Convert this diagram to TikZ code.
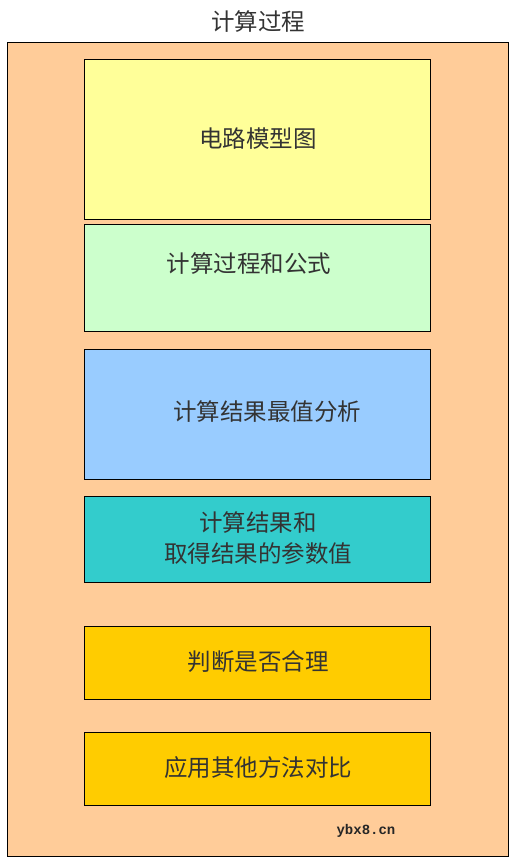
\documentclass[tikz,border=0pt]{standalone}
\usepackage{fontspec}
\newfontfamily\cjk{Noto Sans CJK SC}
\newfontfamily\monof{Liberation Mono}
\definecolor{outerc}{HTML}{FFCC99}
\definecolor{yelc}{HTML}{FFFF99}
\definecolor{grnc}{HTML}{CCFFCC}
\definecolor{bluc}{HTML}{99CCFF}
\definecolor{tealc}{HTML}{33CCCC}
\definecolor{goldc}{HTML}{FFCC00}
\begin{document}
\begin{tikzpicture}[x=1pt,y=-1pt,
  stepbox/.style={draw=black,line width=0.8pt,anchor=north west,inner sep=0pt},
  lbl/.style={font=\cjk\fontsize{23.5}{31}\selectfont,text=black!80,align=center}]
\useasboundingbox (0,0) rectangle (513,863);
\fill[white] (0,0) rectangle (513,863);
\node[lbl] (title) at (258,22) {计算过程};
\draw[fill=outerc,line width=0.8pt] (7,42) rectangle (508,856);
\node[stepbox,fill=yelc,minimum width=346pt,minimum height=160pt] (b1) at (84,59) {};
\node[lbl] (t1) at (258,139) {电路模型图};
\node[stepbox,fill=grnc,minimum width=346pt,minimum height=107pt] (b2) at (84,224) {};
\node[lbl] (t2) at (249,264) {计算过程和公式};
\node[stepbox,fill=bluc,minimum width=346pt,minimum height=130pt] (b3) at (84,349) {};
\node[lbl] (t3) at (267,412) {计算结果最值分析};
\node[stepbox,fill=tealc,minimum width=346pt,minimum height=86pt] (b4) at (84,496) {};
\node[lbl] (t4) at (258,538) {计算结果和\\取得结果的参数值};
\node[stepbox,fill=goldc,minimum width=346pt,minimum height=73pt] (b5) at (84,626) {};
\node[lbl] (t5) at (258,662) {判断是否合理};
\node[stepbox,fill=goldc,minimum width=346pt,minimum height=73pt] (b6) at (84,732) {};
\node[lbl] (t6) at (258,768) {应用其他方法对比};
\node[font=\monof\fontsize{14}{16}\selectfont\bfseries,text=black!85] (wm) at (366,831) {ybx8.cn};
\end{tikzpicture}
\end{document}
